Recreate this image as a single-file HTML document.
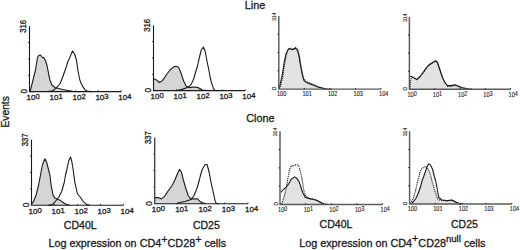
<!DOCTYPE html>
<html><head><meta charset="utf-8"><style>
html,body{margin:0;padding:0;background:#fff;}
body{width:520px;height:250px;overflow:hidden;font-family:"Liberation Sans", sans-serif;}
svg{display:block;}
svg text{font-family:"Liberation Sans", sans-serif;fill:#1a1a1a;stroke:#1a1a1a;stroke-width:0.3px;}
</style></head><body>
<svg width="520" height="250" viewBox="0 0 520 250" font-family='Liberation Sans, sans-serif'>
<polygon points="30.00,91.60 31.00,88.01 33.50,78.00 35.50,70.00 36.80,62.00 37.60,57.00 39.00,55.30 40.50,55.00 41.60,56.50 42.60,57.60 43.80,57.60 45.50,61.00 47.00,65.50 48.10,71.00 49.00,76.00 50.00,80.00 51.90,85.00 55.00,87.50 62.50,89.45 72.50,91.19 80.00,91.60 80.00,91.60 30.00,91.60" fill="#d5d5d5" stroke="none"/>
<polyline points="30.00,91.60 31.00,88.01 33.50,78.00 35.50,70.00 36.80,62.00 37.60,57.00 39.00,55.30 40.50,55.00 41.60,56.50 42.60,57.60 43.80,57.60 45.50,61.00 47.00,65.50 48.10,71.00 49.00,76.00 50.00,80.00 51.90,85.00 55.00,87.50 62.50,89.45 72.50,91.19 80.00,91.60" fill="none" stroke="#1a1a1a" stroke-width="1.1" stroke-linejoin="round"/>
<polyline points="48.00,91.60 52.50,90.68 56.25,88.11 60.00,83.75 62.50,77.50 65.00,70.50 66.25,67.00 68.10,61.00 69.40,58.50 70.60,55.60 72.50,51.00 74.40,53.75 75.60,57.00 76.40,60.00 77.40,67.00 78.20,72.00 79.00,76.00 80.00,80.50 81.40,84.00 83.75,88.11 85.50,90.27 88.00,91.39 92.00,91.60" fill="none" stroke="#1a1a1a" stroke-width="1.1" stroke-linejoin="round"/>
<path d="M29.50,26.25 V91.60 H121.25" fill="none" stroke="#1a1a1a" stroke-width="1.1"/>
<path d="M29.50,75.26 h-1.3" stroke="#1a1a1a" stroke-width="1"/>
<path d="M29.50,58.92 h-1.3" stroke="#1a1a1a" stroke-width="1"/>
<path d="M29.50,42.59 h-1.3" stroke="#1a1a1a" stroke-width="1"/>
<path d="M52.44,91.60 v-1.2" stroke="#1a1a1a" stroke-width="0.9"/>
<path d="M75.38,91.60 v-1.2" stroke="#1a1a1a" stroke-width="0.9"/>
<path d="M98.31,91.60 v-1.2" stroke="#1a1a1a" stroke-width="0.9"/>
<path d="M121.25,91.60 v-1.2" stroke="#1a1a1a" stroke-width="0.9"/>
<text x="26.60" y="100.00" font-size="8">10<tspan dy="-1" font-size="7.6">0</tspan></text>
<text x="49.54" y="100.00" font-size="8">10<tspan dy="-1" font-size="7.6">1</tspan></text>
<text x="72.47" y="100.00" font-size="8">10<tspan dy="-1" font-size="7.6">2</tspan></text>
<text x="95.41" y="100.00" font-size="8">10<tspan dy="-1" font-size="7.6">3</tspan></text>
<text x="118.35" y="100.00" font-size="8">10<tspan dy="-1" font-size="7.6">4</tspan></text>
<text transform="translate(26.00,32.85) rotate(-90) scale(0.88,1)" font-size="8.8">316</text>
<text transform="translate(26.60,93.60) rotate(-90)" font-size="8.3" text-anchor="start">0</text>
<polygon points="153.75,78.75 155.60,79.40 159.40,82.50 162.50,80.60 166.25,75.00 170.00,70.00 173.75,66.90 176.25,66.25 178.75,67.50 181.25,73.75 183.75,81.25 186.25,86.25 188.75,87.59 191.00,87.38 194.00,87.05 197.00,87.38 199.50,88.34 202.50,90.06 206.00,90.60 206.00,90.60 153.75,90.60" fill="#d5d5d5" stroke="none"/>
<polyline points="153.75,78.75 155.60,79.40 159.40,82.50 162.50,80.60 166.25,75.00 170.00,70.00 173.75,66.90 176.25,66.25 178.75,67.50 181.25,73.75 183.75,81.25 186.25,86.25 188.75,87.59 191.00,87.38 194.00,87.05 197.00,87.38 199.50,88.34 202.50,90.06 206.00,90.60" fill="none" stroke="#1a1a1a" stroke-width="1.1" stroke-linejoin="round"/>
<polyline points="176.00,90.60 181.25,89.63 187.50,87.59 191.25,84.40 193.75,78.75 196.25,70.00 197.50,66.00 198.30,62.00 199.40,57.50 201.25,50.00 203.40,47.00 205.20,51.50 206.80,60.00 208.00,66.00 208.80,70.00 210.20,77.50 211.30,82.00 212.40,85.50 213.60,88.66 215.00,90.38 218.00,90.60" fill="none" stroke="#1a1a1a" stroke-width="1.1" stroke-linejoin="round"/>
<path d="M153.50,25.25 V90.60 H245.25" fill="none" stroke="#1a1a1a" stroke-width="1.1"/>
<path d="M153.50,74.26 h-1.3" stroke="#1a1a1a" stroke-width="1"/>
<path d="M153.50,57.92 h-1.3" stroke="#1a1a1a" stroke-width="1"/>
<path d="M153.50,41.59 h-1.3" stroke="#1a1a1a" stroke-width="1"/>
<path d="M176.44,90.60 v-1.2" stroke="#1a1a1a" stroke-width="0.9"/>
<path d="M199.38,90.60 v-1.2" stroke="#1a1a1a" stroke-width="0.9"/>
<path d="M222.31,90.60 v-1.2" stroke="#1a1a1a" stroke-width="0.9"/>
<path d="M245.25,90.60 v-1.2" stroke="#1a1a1a" stroke-width="0.9"/>
<text x="150.60" y="99.00" font-size="8">10<tspan dy="-1" font-size="7.6">0</tspan></text>
<text x="173.54" y="99.00" font-size="8">10<tspan dy="-1" font-size="7.6">1</tspan></text>
<text x="196.47" y="99.00" font-size="8">10<tspan dy="-1" font-size="7.6">2</tspan></text>
<text x="219.41" y="99.00" font-size="8">10<tspan dy="-1" font-size="7.6">3</tspan></text>
<text x="242.35" y="99.00" font-size="8">10<tspan dy="-1" font-size="7.6">4</tspan></text>
<text transform="translate(150.00,31.85) rotate(-90) scale(0.88,1)" font-size="8.8">316</text>
<text transform="translate(150.60,92.60) rotate(-90)" font-size="8.3" text-anchor="start">0</text>
<polygon points="279.60,89.20 281.00,84.00 282.80,76.00 284.20,67.00 285.20,60.50 286.60,54.00 288.00,50.20 289.50,48.80 291.50,49.20 293.50,49.40 295.60,48.30 297.20,50.00 298.20,53.00 299.20,57.50 300.00,62.90 301.00,68.00 302.00,73.30 303.00,77.50 304.10,80.60 306.50,82.50 309.30,83.75 313.50,85.32 317.70,87.00 322.00,88.15 326.00,88.99 332.00,89.31 332.00,89.10 279.60,89.10" fill="#e2e2e2" stroke="none"/>
<polyline points="279.60,88.68 281.00,84.00 282.80,76.00 284.20,67.00 285.20,60.50 286.60,54.00 288.00,50.00 289.50,48.20 291.50,48.60 293.50,48.80 295.80,47.40 297.60,49.40 298.70,52.60 299.70,57.50 300.50,63.00 301.40,68.00 302.40,73.30 303.50,77.60 305.00,80.80 307.50,82.30 310.50,83.20 314.50,85.00 318.50,86.79 323.00,88.15 328.00,89.10" fill="none" stroke="#1a1a1a" stroke-width="1.15" stroke-dasharray="1.1 0.9" stroke-linejoin="round"/>
<polyline points="279.20,88.47 280.20,84.00 282.00,76.00 283.50,67.00 284.50,60.50 286.00,54.00 287.50,50.40 289.00,48.60 291.00,49.20 293.00,49.60 295.50,48.30 297.20,50.00 298.20,53.00 299.20,57.50 300.00,62.90 301.00,68.00 302.00,73.30 303.00,77.50 304.10,80.60 306.50,82.50 309.30,83.75 313.50,85.32 317.70,87.00 322.00,88.15 326.00,88.99 332.00,89.31" fill="none" stroke="#1a1a1a" stroke-width="1.1" stroke-linejoin="round"/>
<path d="M278.80,16.00 V89.10 H381.00" fill="none" stroke="#5a5a5a" stroke-width="1.45"/>
<path d="M278.80,70.82 h-1.3" stroke="#1a1a1a" stroke-width="1"/>
<path d="M278.80,52.55 h-1.3" stroke="#1a1a1a" stroke-width="1"/>
<path d="M278.80,34.27 h-1.3" stroke="#1a1a1a" stroke-width="1"/>
<path d="M304.35,89.10 v-1.2" stroke="#1a1a1a" stroke-width="0.9"/>
<path d="M329.90,89.10 v-1.2" stroke="#1a1a1a" stroke-width="0.9"/>
<path d="M355.45,89.10 v-1.2" stroke="#1a1a1a" stroke-width="0.9"/>
<path d="M381.00,89.10 v-1.2" stroke="#1a1a1a" stroke-width="0.9"/>
<text transform="translate(276.90,96.30) scale(0.84,1)" font-size="6.7" style="stroke-width:0.12px">10<tspan dy="-0.6" font-size="6.5">0</tspan></text>
<text transform="translate(302.45,96.30) scale(0.84,1)" font-size="6.7" style="stroke-width:0.12px">10<tspan dy="-0.6" font-size="6.5">1</tspan></text>
<text transform="translate(328.00,96.30) scale(0.84,1)" font-size="6.7" style="stroke-width:0.12px">10<tspan dy="-0.6" font-size="6.5">2</tspan></text>
<text transform="translate(353.55,96.30) scale(0.84,1)" font-size="6.7" style="stroke-width:0.12px">10<tspan dy="-0.6" font-size="6.5">3</tspan></text>
<text transform="translate(379.10,96.30) scale(0.84,1)" font-size="6.7" style="stroke-width:0.12px">10<tspan dy="-0.6" font-size="6.5">4</tspan></text>
<text transform="translate(275.90,21.10) rotate(-90) scale(0.92,1)" font-size="5.8" style="stroke-width:0.1px">314</text>
<text transform="translate(276.30,90.30) rotate(-90)" font-size="6.2" style="stroke-width:0.15px">0</text>
<polygon points="410.20,89.08 410.60,80.00 413.00,78.50 416.90,80.50 420.30,77.00 423.75,72.00 428.75,65.50 432.50,63.00 435.60,61.00 437.50,63.00 440.00,70.50 442.50,78.00 445.00,83.00 447.50,86.08 451.25,86.08 455.00,85.22 458.75,86.72 462.50,88.01 468.00,89.08 468.00,89.30 410.20,89.30" fill="#e2e2e2" stroke="none"/>
<polyline points="410.20,88.76 410.60,79.00 413.00,77.50 416.90,80.00 420.30,76.50 423.75,72.00 428.75,65.50 432.50,63.00 435.60,61.00 437.50,63.00 440.00,70.50 442.50,78.00 445.00,83.00 447.50,86.08 451.25,86.08 455.00,85.22 458.75,86.72 462.50,88.01 468.00,89.08" fill="none" stroke="#1a1a1a" stroke-width="1.15" stroke-dasharray="1.1 0.9" stroke-linejoin="round"/>
<polyline points="410.00,76.25 412.50,76.90 416.90,79.40 420.30,76.25 423.75,71.50 426.00,68.00 428.75,65.00 432.50,62.50 435.60,60.60 437.50,62.50 440.00,70.00 442.50,77.50 445.00,82.50 447.50,85.64 451.25,85.64 455.00,84.75 458.75,86.34 462.50,87.69 467.50,88.76 472.00,89.08" fill="none" stroke="#1a1a1a" stroke-width="1.1" stroke-linejoin="round"/>
<path d="M409.40,17.00 V89.30 H510.50" fill="none" stroke="#5a5a5a" stroke-width="1.45"/>
<path d="M409.40,71.22 h-1.3" stroke="#1a1a1a" stroke-width="1"/>
<path d="M409.40,53.15 h-1.3" stroke="#1a1a1a" stroke-width="1"/>
<path d="M409.40,35.08 h-1.3" stroke="#1a1a1a" stroke-width="1"/>
<path d="M434.67,89.30 v-1.2" stroke="#1a1a1a" stroke-width="0.9"/>
<path d="M459.95,89.30 v-1.2" stroke="#1a1a1a" stroke-width="0.9"/>
<path d="M485.23,89.30 v-1.2" stroke="#1a1a1a" stroke-width="0.9"/>
<path d="M510.50,89.30 v-1.2" stroke="#1a1a1a" stroke-width="0.9"/>
<text transform="translate(407.50,96.50) scale(0.84,1)" font-size="6.7" style="stroke-width:0.12px">10<tspan dy="-0.6" font-size="6.5">0</tspan></text>
<text transform="translate(432.77,96.50) scale(0.84,1)" font-size="6.7" style="stroke-width:0.12px">10<tspan dy="-0.6" font-size="6.5">1</tspan></text>
<text transform="translate(458.05,96.50) scale(0.84,1)" font-size="6.7" style="stroke-width:0.12px">10<tspan dy="-0.6" font-size="6.5">2</tspan></text>
<text transform="translate(483.33,96.50) scale(0.84,1)" font-size="6.7" style="stroke-width:0.12px">10<tspan dy="-0.6" font-size="6.5">3</tspan></text>
<text transform="translate(508.60,96.50) scale(0.84,1)" font-size="6.7" style="stroke-width:0.12px">10<tspan dy="-0.6" font-size="6.5">4</tspan></text>
<text transform="translate(406.50,22.10) rotate(-90) scale(0.92,1)" font-size="5.8" style="stroke-width:0.1px">314</text>
<text transform="translate(406.90,90.50) rotate(-90)" font-size="6.2" style="stroke-width:0.15px">0</text>
<polygon points="31.20,204.99 31.75,203.89 33.60,201.26 36.10,195.00 38.60,185.00 40.50,175.00 42.40,165.00 44.90,158.75 46.75,162.50 48.60,170.00 49.90,175.00 51.10,185.00 53.00,195.00 54.90,198.10 58.00,199.40 60.50,200.60 64.25,203.20 66.75,204.57 70.00,205.20 70.00,205.20 31.20,205.20" fill="#d5d5d5" stroke="none"/>
<polyline points="31.20,204.99 31.75,203.89 33.60,201.26 36.10,195.00 38.60,185.00 40.50,175.00 42.40,165.00 44.90,158.75 46.75,162.50 48.60,170.00 49.90,175.00 51.10,185.00 53.00,195.00 54.90,198.10 58.00,199.40 60.50,200.60 64.25,203.20 66.75,204.57 70.00,205.20" fill="none" stroke="#1a1a1a" stroke-width="1.1" stroke-linejoin="round"/>
<polyline points="48.00,205.20 52.40,204.57 55.50,201.26 58.60,197.50 61.75,191.25 64.25,182.50 65.50,175.00 66.75,170.00 68.60,161.25 70.50,156.90 71.75,161.25 73.25,170.00 73.80,175.00 74.90,182.50 77.40,193.75 80.50,197.50 83.60,201.94 86.75,204.57 90.00,205.20" fill="none" stroke="#1a1a1a" stroke-width="1.1" stroke-linejoin="round"/>
<path d="M31.50,139.75 V205.20 H123.50" fill="none" stroke="#1a1a1a" stroke-width="1.1"/>
<path d="M31.50,188.84 h-1.3" stroke="#1a1a1a" stroke-width="1"/>
<path d="M31.50,172.47 h-1.3" stroke="#1a1a1a" stroke-width="1"/>
<path d="M31.50,156.11 h-1.3" stroke="#1a1a1a" stroke-width="1"/>
<path d="M54.50,205.20 v-1.2" stroke="#1a1a1a" stroke-width="0.9"/>
<path d="M77.50,205.20 v-1.2" stroke="#1a1a1a" stroke-width="0.9"/>
<path d="M100.50,205.20 v-1.2" stroke="#1a1a1a" stroke-width="0.9"/>
<path d="M123.50,205.20 v-1.2" stroke="#1a1a1a" stroke-width="0.9"/>
<text x="28.60" y="213.60" font-size="8">10<tspan dy="-1" font-size="7.6">0</tspan></text>
<text x="51.60" y="213.60" font-size="8">10<tspan dy="-1" font-size="7.6">1</tspan></text>
<text x="74.60" y="213.60" font-size="8">10<tspan dy="-1" font-size="7.6">2</tspan></text>
<text x="97.60" y="213.60" font-size="8">10<tspan dy="-1" font-size="7.6">3</tspan></text>
<text x="120.60" y="213.60" font-size="8">10<tspan dy="-1" font-size="7.6">4</tspan></text>
<text transform="translate(28.00,146.35) rotate(-90) scale(0.88,1)" font-size="8.8">337</text>
<text transform="translate(28.60,207.20) rotate(-90)" font-size="8.3" text-anchor="start">0</text>
<polygon points="155.10,197.60 158.25,197.60 161.40,198.90 164.50,196.40 168.25,190.75 172.00,185.75 175.10,179.50 177.60,173.25 179.50,169.40 181.40,172.00 183.25,179.50 185.75,188.25 188.25,195.75 190.75,198.90 194.50,198.90 197.50,198.75 200.00,201.44 202.50,202.82 206.00,203.70 206.00,203.70 155.10,203.70" fill="#d5d5d5" stroke="none"/>
<polyline points="155.10,197.60 158.25,197.60 161.40,198.90 164.50,196.40 168.25,190.75 172.00,185.75 175.10,179.50 177.60,173.25 179.50,169.40 181.40,172.00 183.25,179.50 185.75,188.25 188.25,195.75 190.75,198.90 194.50,198.90 197.50,198.75 200.00,201.44 202.50,202.82 206.00,203.70" fill="none" stroke="#1a1a1a" stroke-width="1.1" stroke-linejoin="round"/>
<polyline points="176.00,203.70 180.00,202.49 185.00,201.44 191.25,199.41 193.90,195.75 197.00,188.25 199.50,179.50 200.30,176.00 202.00,170.00 205.10,164.50 207.00,164.50 208.25,168.75 209.30,173.00 210.50,179.50 211.40,184.00 212.50,189.00 213.60,193.80 214.50,198.00 215.20,201.17 216.30,203.48 219.00,203.70" fill="none" stroke="#1a1a1a" stroke-width="1.1" stroke-linejoin="round"/>
<path d="M154.75,137.50 V203.70 H248.00" fill="none" stroke="#1a1a1a" stroke-width="1.1"/>
<path d="M154.75,187.15 h-1.3" stroke="#1a1a1a" stroke-width="1"/>
<path d="M154.75,170.60 h-1.3" stroke="#1a1a1a" stroke-width="1"/>
<path d="M154.75,154.05 h-1.3" stroke="#1a1a1a" stroke-width="1"/>
<path d="M178.06,203.70 v-1.2" stroke="#1a1a1a" stroke-width="0.9"/>
<path d="M201.38,203.70 v-1.2" stroke="#1a1a1a" stroke-width="0.9"/>
<path d="M224.69,203.70 v-1.2" stroke="#1a1a1a" stroke-width="0.9"/>
<path d="M248.00,203.70 v-1.2" stroke="#1a1a1a" stroke-width="0.9"/>
<text x="151.85" y="212.10" font-size="8">10<tspan dy="-1" font-size="7.6">0</tspan></text>
<text x="175.16" y="212.10" font-size="8">10<tspan dy="-1" font-size="7.6">1</tspan></text>
<text x="198.47" y="212.10" font-size="8">10<tspan dy="-1" font-size="7.6">2</tspan></text>
<text x="221.79" y="212.10" font-size="8">10<tspan dy="-1" font-size="7.6">3</tspan></text>
<text x="245.10" y="212.10" font-size="8">10<tspan dy="-1" font-size="7.6">4</tspan></text>
<text transform="translate(151.25,144.10) rotate(-90) scale(0.88,1)" font-size="8.8">337</text>
<text transform="translate(151.85,205.70) rotate(-90)" font-size="8.3" text-anchor="start">0</text>
<polygon points="281.20,204.40 282.50,201.10 284.50,195.00 286.30,188.00 288.50,184.25 291.00,179.40 292.25,178.50 294.75,176.90 297.25,178.75 299.10,181.90 300.40,185.50 302.90,193.00 305.40,197.40 309.75,198.60 313.50,199.25 317.25,200.55 319.75,201.93 323.50,203.96 328.00,204.40 328.00,204.40 281.20,204.40" fill="#e2e2e2" stroke="none"/>
<polyline points="281.40,203.96 282.80,201.10 284.60,195.00 286.50,187.00 287.60,180.00 288.50,175.00 289.30,171.00 290.20,167.80 291.50,165.60 293.00,166.20 295.00,164.80 297.90,165.00 299.00,166.80 300.40,171.50 301.80,178.00 302.90,184.25 304.10,191.75 306.00,196.75 309.75,198.60 313.50,199.50 318.00,200.88 322.00,203.08 327.00,204.40" fill="none" stroke="#1a1a1a" stroke-width="1.15" stroke-dasharray="1.1 0.9" stroke-linejoin="round"/>
<polyline points="280.80,192.40 283.50,189.25 286.00,187.40 288.50,184.25 291.00,179.40 292.25,178.50 294.75,176.90 297.25,178.75 299.10,181.90 300.40,185.50 302.90,193.00 305.40,197.40 309.75,198.60 313.50,199.25 317.25,200.55 319.75,201.93 323.50,203.96 328.00,204.40" fill="none" stroke="#1a1a1a" stroke-width="1.1" stroke-linejoin="round"/>
<path d="M280.00,131.25 V204.40 H382.50" fill="none" stroke="#5a5a5a" stroke-width="1.45"/>
<path d="M280.00,186.11 h-1.3" stroke="#1a1a1a" stroke-width="1"/>
<path d="M280.00,167.82 h-1.3" stroke="#1a1a1a" stroke-width="1"/>
<path d="M280.00,149.54 h-1.3" stroke="#1a1a1a" stroke-width="1"/>
<path d="M305.62,204.40 v-1.2" stroke="#1a1a1a" stroke-width="0.9"/>
<path d="M331.25,204.40 v-1.2" stroke="#1a1a1a" stroke-width="0.9"/>
<path d="M356.88,204.40 v-1.2" stroke="#1a1a1a" stroke-width="0.9"/>
<path d="M382.50,204.40 v-1.2" stroke="#1a1a1a" stroke-width="0.9"/>
<text transform="translate(278.10,211.60) scale(0.84,1)" font-size="6.7" style="stroke-width:0.12px">10<tspan dy="-0.6" font-size="6.5">0</tspan></text>
<text transform="translate(303.73,211.60) scale(0.84,1)" font-size="6.7" style="stroke-width:0.12px">10<tspan dy="-0.6" font-size="6.5">1</tspan></text>
<text transform="translate(329.35,211.60) scale(0.84,1)" font-size="6.7" style="stroke-width:0.12px">10<tspan dy="-0.6" font-size="6.5">2</tspan></text>
<text transform="translate(354.98,211.60) scale(0.84,1)" font-size="6.7" style="stroke-width:0.12px">10<tspan dy="-0.6" font-size="6.5">3</tspan></text>
<text transform="translate(380.60,211.60) scale(0.84,1)" font-size="6.7" style="stroke-width:0.12px">10<tspan dy="-0.6" font-size="6.5">4</tspan></text>
<text transform="translate(277.10,136.35) rotate(-90) scale(0.92,1)" font-size="5.8" style="stroke-width:0.1px">314</text>
<text transform="translate(277.50,205.60) rotate(-90)" font-size="6.2" style="stroke-width:0.15px">0</text>
<polygon points="412.20,204.00 413.70,201.03 415.70,198.75 417.70,194.50 419.45,190.00 420.70,186.00 421.95,181.00 424.45,174.50 426.20,169.00 427.60,168.25 429.20,171.00 430.10,173.25 431.95,180.75 433.80,187.00 434.45,190.00 435.70,193.00 437.60,198.75 439.70,200.00 441.95,200.31 446.70,200.82 451.70,200.31 455.70,202.05 459.70,203.79 462.70,204.00 462.70,204.00 412.20,204.00" fill="#e2e2e2" stroke="none"/>
<polyline points="410.70,203.59 411.70,201.03 413.20,198.75 415.70,190.00 417.20,183.00 418.20,179.50 420.10,172.00 421.95,168.25 424.45,167.00 425.70,166.50 427.60,168.25 429.20,171.00 430.10,173.25 431.95,180.75 433.80,187.00 434.45,190.00 435.70,193.00 437.60,198.75 439.70,200.00 441.95,200.31 446.70,200.82 451.70,200.31 455.70,202.05 459.70,203.79 462.70,204.00" fill="none" stroke="#1a1a1a" stroke-width="1.15" stroke-dasharray="1.1 0.9" stroke-linejoin="round"/>
<polyline points="411.20,203.69 411.95,203.18 413.70,201.03 415.70,198.75 417.70,194.50 419.45,190.00 420.70,186.00 421.95,181.00 424.45,174.50 426.95,167.00 428.80,163.90 430.70,165.10 432.60,169.50 434.45,177.00 435.70,181.00 436.95,187.50 438.80,197.50 441.95,200.00 446.95,200.62 451.95,200.00 455.70,201.95 459.45,203.59 462.70,204.00" fill="none" stroke="#1a1a1a" stroke-width="1.1" stroke-linejoin="round"/>
<path d="M409.60,131.25 V204.00 H511.75" fill="none" stroke="#5a5a5a" stroke-width="1.45"/>
<path d="M409.60,185.81 h-1.3" stroke="#1a1a1a" stroke-width="1"/>
<path d="M409.60,167.62 h-1.3" stroke="#1a1a1a" stroke-width="1"/>
<path d="M409.60,149.44 h-1.3" stroke="#1a1a1a" stroke-width="1"/>
<path d="M435.14,204.00 v-1.2" stroke="#1a1a1a" stroke-width="0.9"/>
<path d="M460.68,204.00 v-1.2" stroke="#1a1a1a" stroke-width="0.9"/>
<path d="M486.21,204.00 v-1.2" stroke="#1a1a1a" stroke-width="0.9"/>
<path d="M511.75,204.00 v-1.2" stroke="#1a1a1a" stroke-width="0.9"/>
<text transform="translate(407.70,211.20) scale(0.84,1)" font-size="6.7" style="stroke-width:0.12px">10<tspan dy="-0.6" font-size="6.5">0</tspan></text>
<text transform="translate(433.24,211.20) scale(0.84,1)" font-size="6.7" style="stroke-width:0.12px">10<tspan dy="-0.6" font-size="6.5">1</tspan></text>
<text transform="translate(458.78,211.20) scale(0.84,1)" font-size="6.7" style="stroke-width:0.12px">10<tspan dy="-0.6" font-size="6.5">2</tspan></text>
<text transform="translate(484.31,211.20) scale(0.84,1)" font-size="6.7" style="stroke-width:0.12px">10<tspan dy="-0.6" font-size="6.5">3</tspan></text>
<text transform="translate(509.85,211.20) scale(0.84,1)" font-size="6.7" style="stroke-width:0.12px">10<tspan dy="-0.6" font-size="6.5">4</tspan></text>
<text transform="translate(406.70,136.35) rotate(-90) scale(0.92,1)" font-size="5.8" style="stroke-width:0.1px">314</text>
<text transform="translate(407.10,205.20) rotate(-90)" font-size="6.2" style="stroke-width:0.15px">0</text>
<text x="244.8" y="9.1" font-size="10.8">Line</text>
<text x="246.3" y="121.8" font-size="10.8">Clone</text>
<text transform="translate(9.30,127.60) rotate(-90)" font-size="10.3" text-anchor="start">Events</text>
<text x="63.8" y="229.0" font-size="10.55">CD40L</text>
<text x="192.9" y="229.0" font-size="10.55">CD25</text>
<text x="319.6" y="228.1" font-size="10.55">CD40L</text>
<text x="451.0" y="227.5" font-size="10.55">CD25</text>
<text x="48.4" y="247.2" font-size="10.8">Log expression on CD4<tspan dy="-4.2">+</tspan><tspan dy="4.2">CD28</tspan><tspan dy="-4.2">+</tspan><tspan dy="4.2"> cells</tspan></text>
<text x="299.2" y="246.7" font-size="10.8">Log expression on CD4<tspan dy="-4.6">+</tspan><tspan dy="4.6">CD28</tspan><tspan dy="-4.8" font-size="9.6">null</tspan><tspan dy="4.8"> cells</tspan></text>
</svg>
</body></html>
